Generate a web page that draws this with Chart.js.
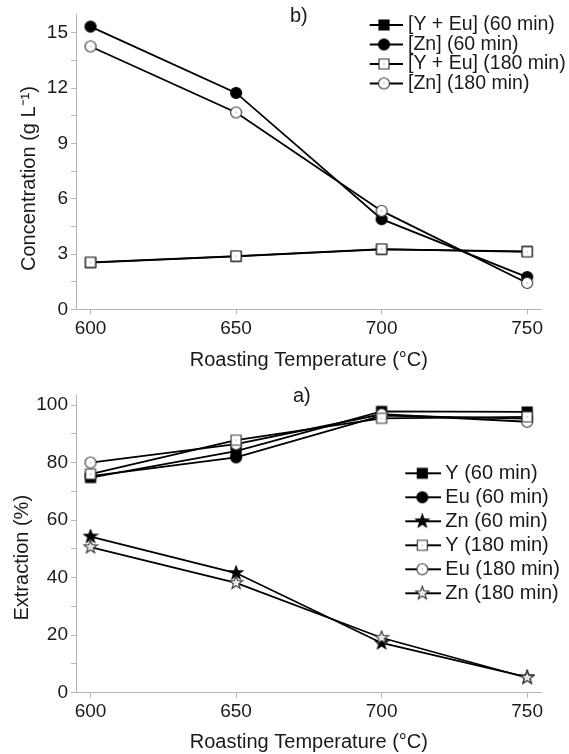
<!DOCTYPE html>
<html>
<head>
<meta charset="utf-8">
<script src="https://cdn.jsdelivr.net/npm/chart.js@4.4.0/dist/chart.umd.min.js"></script>
<style>
  html, body { margin: 0; padding: 0; background: #fff; }
  .panel { position: relative; width: 569px; height: 377px; }
  .tag { position: absolute; font: 20px 'Liberation Sans', Arial, sans-serif; line-height: 20px; color: #1a1a1a; }
</style>
</head>
<body>
<div class="panel">
  <canvas id="concChart" width="569" height="377"></canvas>
  <div class="tag" style="left:290px; top:5px">b)</div>
</div>
<div class="panel">
  <canvas id="extChart" width="569" height="377"></canvas>
  <div class="tag" style="left:293px; top:8px">a)</div>
</div>
<script>
// roasting temperatures (°C)
const temps = [600, 650, 700, 750];
const tempTicks = [600, 650, 700, 750];

// b) concentration in leach liquor (g/L)
const yEuConc60 = [2.53, 2.87, 3.25, 3.14];
const znConc60 = [15.34, 11.74, 4.89, 1.75];
const yEuConc180 = [2.55, 2.89, 3.27, 3.12];
const znConc180 = [14.26, 10.68, 5.34, 1.43];
const concNames = ['[Y + Eu] (60 min)', '[Zn] (60 min)', '[Y + Eu] (180 min)', '[Zn] (180 min)'];
const concMajor = [0, 3, 6, 9, 12, 15];
const concMinor = [1.5, 4.5, 7.5, 10.5, 13.5];

// a) extraction (%)
const yExt60 = [74.8, 84.0, 97.8, 97.6];
const euExt60 = [75.3, 81.8, 96.3, 95.3];
const znExt60 = [54.3, 41.6, 17.3, 5.4];
const yExt180 = [76.0, 87.8, 95.4, 95.9];
const euExt180 = [80.0, 86.4, 96.8, 94.2];
const znExt180 = [50.6, 38.2, 19.1, 5.2];
const extNames = ['Y (60 min)', 'Eu (60 min)', 'Zn (60 min)', 'Y (180 min)', 'Eu (180 min)', 'Zn (180 min)'];
const extMajor = [0, 20, 40, 60, 80, 100];
const extMinor = [10, 30, 50, 70, 90];

const FONT = "'Liberation Sans', Arial, sans-serif";
const INK = '#1a1a1a';
const AXIS = '#b4b4b4';

Chart.defaults.font.family = FONT;
Chart.defaults.color = INK;

function drawMarker(ctx, shape, filled, cx, cy) {
  ctx.beginPath();
  if (shape === 'square') {
    ctx.rect(cx - 5, cy - 5, 10, 10);
  } else if (shape === 'circle') {
    ctx.arc(cx, cy, 5.5, 0, Math.PI * 2);
  } else {
    for (let i = 0; i < 10; i++) {
      const r = i % 2 === 0 ? 6.8 : 2.8;
      const a = -Math.PI / 2 + i * Math.PI / 5;
      const px = cx + r * Math.cos(a), py = cy + r * Math.sin(a);
      if (i === 0) ctx.moveTo(px, py); else ctx.lineTo(px, py);
    }
    ctx.closePath();
  }
  ctx.fillStyle = filled ? '#000' : '#fff';
  ctx.fill();
  ctx.lineWidth = 1.2;
  ctx.strokeStyle = filled ? '#000' : '#3a3a3a';
  ctx.stroke();
  if (!filled) {
    ctx.beginPath();
    ctx.arc(cx, cy, 0.7, 0, Math.PI * 2);
    ctx.fillStyle = '#999';
    ctx.fill();
  }
}

function markerImage(shape, filled) {
  const c = document.createElement('canvas');
  c.width = 16; c.height = 16;
  drawMarker(c.getContext('2d'), shape, filled, 8, 8);
  return c;
}

function legendImage(shape, filled, w) {
  const c = document.createElement('canvas');
  c.width = w; c.height = 16;
  const ctx = c.getContext('2d');
  ctx.beginPath();
  ctx.moveTo(0, 8); ctx.lineTo(w, 8);
  ctx.lineWidth = 1.8; ctx.strokeStyle = '#000';
  ctx.stroke();
  drawMarker(ctx, shape, filled, w / 2, 8);
  return c;
}

function series(name, vals, shape, filled, legendW) {
  return {
    label: name,
    data: temps.map((t, i) => ({ x: t, y: vals[i] })),
    borderColor: '#000',
    borderWidth: 1.8,
    tension: 0,
    pointStyle: markerImage(shape, filled),
    pointRadius: 5,
    legendSymbol: legendImage(shape, filled, legendW),
    order: filled ? 1 : 0
  };
}

// keep the legend inside the plot, at a fixed spot
const placeLegend = {
  id: 'placeLegend',
  afterLayout(chart, args, opts) {
    const lg = chart.legend;
    lg.left = opts.x; lg.top = opts.y;
    lg.right = chart.width; lg.bottom = chart.height;
    lg.width = lg.right - lg.left; lg.height = lg.bottom - lg.top;
  }
};

function makeOptions(cfg) {
  return {
    responsive: false,
    animation: false,
    events: [],
    layout: { padding: { top: cfg.top, right: 27.3, bottom: 0, left: 0 } },
    scales: {
      x: {
        type: 'linear',
        min: 595,
        max: 755,
        afterBuildTicks: s => { s.ticks = tempTicks.map(v => ({ value: v })); },
        afterFit: s => { s.height = cfg.xHeight; },
        ticks: { autoSkip: false, maxRotation: 0, padding: 3, color: INK, font: { size: 19 } },
        grid: { drawOnChartArea: false, drawTicks: true, tickLength: 5, color: AXIS },
        border: { color: AXIS, width: 1 },
        title: { display: true, text: 'Roasting Temperature (°C)', color: INK,
                 font: { size: 20 }, padding: { top: 0, bottom: cfg.xTitlePad } }
      },
      y: {
        min: 0,
        max: cfg.yMax,
        afterBuildTicks: s => {
          s.ticks = cfg.major.concat(cfg.minor).sort((a, b) => a - b).map(v => ({ value: v }));
        },
        afterFit: s => { s.width = 76; },
        ticks: {
          padding: 3, color: INK, font: { size: 19 },
          callback: v => (cfg.major.includes(v) ? String(v) : '')
        },
        grid: { drawOnChartArea: false, drawTicks: true, tickLength: 5, color: AXIS },
        border: { color: AXIS, width: 1 },
        title: { display: true, text: cfg.yTitle, color: INK,
                 font: { size: 20 }, padding: { top: cfg.yTitlePad, bottom: 0 } }
      }
    },
    plugins: {
      tooltip: { enabled: false },
      placeLegend: { x: cfg.legendX, y: cfg.legendY },
      legend: {
        position: 'chartArea',
        align: 'start',
        labels: {
          usePointStyle: true,
          pointStyleWidth: cfg.pointStyleWidth,
          padding: cfg.legendPad,
          color: INK,
          font: { size: cfg.legendFont },
          sort: (a, b) => a.datasetIndex - b.datasetIndex,
          generateLabels: chart => {
            const items = Chart.defaults.plugins.legend.labels.generateLabels(chart);
            items.forEach(it => { it.pointStyle = chart.data.datasets[it.datasetIndex].legendSymbol; });
            return items;
          }
        }
      }
    }
  };
}

new Chart(document.getElementById('concChart'), {
  type: 'line',
  data: {
    datasets: [
      series(concNames[0], yEuConc60, 'square', true, 38),
      series(concNames[1], znConc60, 'circle', true, 38),
      series(concNames[2], yEuConc180, 'square', false, 38),
      series(concNames[3], znConc180, 'circle', false, 38)
    ]
  },
  options: makeOptions({
    top: 11.7, xHeight: 67.7, xTitlePad: 5, yMax: 16,
    major: concMajor, minor: concMinor,
    yTitle: 'Concentration (g L⁻¹)      ', yTitlePad: 17,
    legendX: 369.75, legendY: 15.25, legendPad: 0, legendFont: 19.5, pointStyleWidth: 28.5
  }),
  plugins: [placeLegend]
});

new Chart(document.getElementById('extChart'), {
  type: 'line',
  data: {
    datasets: [
      series(extNames[0], yExt60, 'square', true, 37),
      series(extNames[1], euExt60, 'circle', true, 37),
      series(extNames[2], znExt60, 'star', true, 37),
      series(extNames[3], yExt180, 'square', false, 37),
      series(extNames[4], euExt180, 'circle', false, 37),
      series(extNames[5], znExt180, 'star', false, 37)
    ]
  },
  options: makeOptions({
    top: 18, xHeight: 61.3, xTitlePad: 0, yMax: 103.5,
    major: extMajor, minor: extMinor,
    yTitle: 'Extraction (%)     ', yTitlePad: 10,
    legendX: 405.3, legendY: 82.3, legendPad: 4, legendFont: 20, pointStyleWidth: 26
  }),
  plugins: [placeLegend]
});
</script>
</body>
</html>
